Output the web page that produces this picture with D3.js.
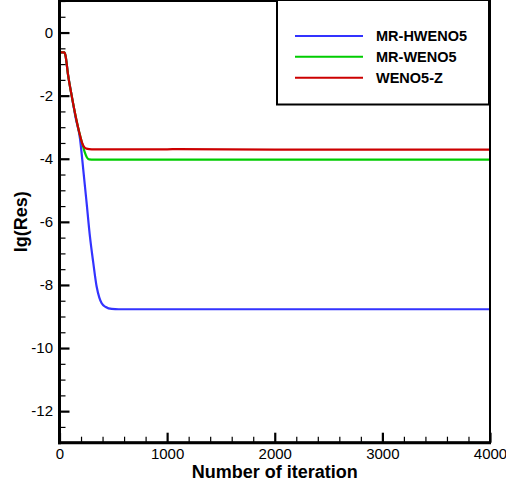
<!DOCTYPE html>
<html><head><meta charset="utf-8">
<script src="https://cdn.jsdelivr.net/npm/d3@7"></script>
<style>body{margin:0;background:#fff}svg{display:block}</style>
</head><body>
<script>
const seriesNames = ["MR-HWENO5", "MR-WENO5", "WENO5-Z"];
const seriesColors = ["#3333ff", "#00cc00", "#cc0000"];
const xTicks = [0, 1000, 2000, 3000, 4000];
const yTicks = [-12, -10, -8, -6, -4, -2, 0];
const iterHW = [0, 45, 55, 80, 113, 150, 190, 221, 252, 283, 314, 345, 370, 392, 430, 485, 550, 1000, 2000, 3000, 4000];
const resHW  = [-0.63, -0.63, -0.72, -1.35, -2.0, -2.7, -3.35, -4.35, -5.4, -6.47, -7.3, -8.05, -8.4, -8.58, -8.7, -8.76, -8.77, -8.77, -8.77, -8.77, -8.77];
const iterW = [0, 45, 55, 80, 113, 150, 190, 210, 235, 255, 275, 320, 1000, 2000, 3000, 4000];
const resW  = [-0.63, -0.63, -0.72, -1.35, -2.0, -2.65, -3.25, -3.5, -3.8, -3.96, -4.02, -4.03, -4.03, -4.03, -4.03, -4.03];
const iterZ = [0, 45, 55, 80, 113, 150, 190, 210, 230, 250, 300, 1000, 1100, 2000, 3000, 4000];
const resZ  = [-0.63, -0.63, -0.72, -1.35, -2.0, -2.65, -3.25, -3.5, -3.63, -3.68, -3.70, -3.70, -3.695, -3.71, -3.71, -3.71];

const W = 506, H = 487;
const L = 59.5, R = 490, T = 1, B = 442.7;
const svg = d3.select("body").append("svg").attr("width", W).attr("height", H)
  .style("font-family", "Arial, 'Liberation Sans', Helvetica, sans-serif");
const x = d3.scaleLinear().domain([0, 4000]).range([L, R]);
const y = d3.scaleLinear().domain([-13, 1]).range([B, T]);

svg.append("clipPath").attr("id", "clip").append("rect")
  .attr("x", L).attr("y", T).attr("width", R - L).attr("height", B - T);

const series = [
  {name: seriesNames[0], color: seriesColors[0], d: iterHW.map((v, i) => [v, resHW[i]])},
  {name: seriesNames[1], color: seriesColors[1], d: iterW.map((v, i) => [v, resW[i]])},
  {name: seriesNames[2], color: seriesColors[2], d: iterZ.map((v, i) => [v, resZ[i]])}
];
const line = d3.line().x(d => x(d[0])).y(d => y(d[1])).curve(d3.curveMonotoneX);
const g = svg.append("g").attr("clip-path", "url(#clip)");
series.forEach(s => {
  g.append("path").attr("d", line(s.d)).attr("fill", "none")
    .attr("stroke", s.color).attr("stroke-width", 2.2);
});

// minor and major ticks (inward)
const yMinor = d3.range(-13, 1.01, 0.5).filter(v => !yTicks.includes(v));
const xMinor = d3.range(0, 4001, 200).filter(v => !xTicks.includes(v));
svg.append("g").attr("transform", `translate(${L},0)`)
  .call(d3.axisLeft(y).tickValues(yMinor).tickSize(-6).tickFormat(""))
  .call(a => a.select(".domain").remove())
  .selectAll("line").attr("stroke", "#000").attr("stroke-width", 1.2);
svg.append("g").attr("transform", `translate(0,${B})`)
  .call(d3.axisBottom(x).tickValues(xMinor).tickSize(-6).tickFormat(""))
  .call(a => a.select(".domain").remove())
  .selectAll("line").attr("stroke", "#000").attr("stroke-width", 1.2);

const ya = svg.append("g").attr("transform", `translate(${L},0)`)
  .call(d3.axisLeft(y).tickValues(yTicks).tickSize(-10).tickPadding(6.5).tickFormat(d3.format("d")));
ya.select(".domain").remove();
ya.selectAll("line").attr("stroke", "#000").attr("stroke-width", 2.2);
ya.selectAll("text").attr("font-size", 15).attr("fill", "#000")
  .style("font-family", "Arial, 'Liberation Sans', sans-serif")
  .text(d => d < 0 ? "-" + Math.abs(d) : d);

const xa = svg.append("g").attr("transform", `translate(0,${B})`)
  .call(d3.axisBottom(x).tickValues(xTicks).tickSize(-10).tickPadding(6).tickFormat(d3.format("d")));
xa.select(".domain").remove();
xa.selectAll("line").attr("stroke", "#000").attr("stroke-width", 2.2);
xa.selectAll("text").attr("font-size", 15).attr("fill", "#000")
  .style("font-family", "Arial, 'Liberation Sans', sans-serif");

// frame
svg.append("rect").attr("x", L).attr("y", T).attr("width", R - L).attr("height", B - T)
  .attr("fill", "none").attr("stroke", "#000").attr("stroke-width", 2);
svg.append("line").attr("x1", L).attr("x2", L).attr("y1", T - 1).attr("y2", B + 1.5)
  .attr("stroke", "#000").attr("stroke-width", 3);
svg.append("line").attr("x1", L - 1.5).attr("x2", R + 1).attr("y1", B).attr("y2", B)
  .attr("stroke", "#000").attr("stroke-width", 3);

// axis titles
svg.append("text").attr("x", (L + R) / 2 + 0).attr("y", 478).attr("text-anchor", "middle")
  .attr("font-size", 18).attr("font-weight", "bold").text("Number of iteration");
svg.append("text").attr("transform", `translate(27,${(T + B) / 2}) rotate(-90)`)
  .attr("text-anchor", "middle").attr("font-size", 18).attr("font-weight", "bold").text("lg(Res)");

// legend
const lg = svg.append("g");
lg.append("rect").attr("x", 277).attr("y", 0).attr("width", 212).attr("height", 104.5)
  .attr("fill", "#fff").attr("stroke", "#000").attr("stroke-width", 2);
const ly = [36, 56.7, 77.7];
series.forEach((s, i) => {
  lg.append("line").attr("x1", 295).attr("x2", 363).attr("y1", ly[i]).attr("y2", ly[i])
    .attr("stroke", s.color).attr("stroke-width", 2);
  lg.append("text").attr("x", 376).attr("y", ly[i] + 5).attr("font-size", 14.5)
    .attr("font-weight", "bold").text(s.name);
});
</script>
</body></html>
